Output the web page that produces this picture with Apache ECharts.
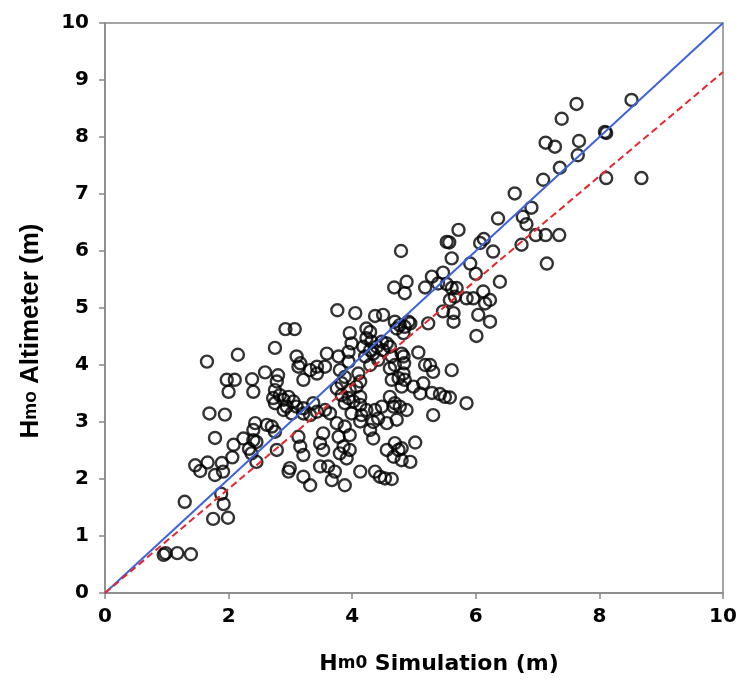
<!DOCTYPE html>
<html>
<head>
<meta charset="utf-8">
<script src="https://cdn.jsdelivr.net/npm/echarts@6/dist/echarts.min.js"></script>
<style>
  html, body { margin: 0; padding: 0; background: #fff; }
  #chart { width: 742px; height: 681px; }
</style>
</head>
<body>
<div id="chart"></div>
<script>
  // Hm0 from the simulation (x) and from the altimeter (y)
  var simHm0 = [
    0.95, 0.98, 1.17, 1.39, 1.29, 1.75, 1.99, 1.88, 1.92, 1.46,
    1.54, 1.66, 1.78, 1.89, 1.91, 2.06, 2.08, 2.24, 2.40, 2.33,
    2.45, 1.78, 1.69, 1.94, 1.65, 2.15, 1.97, 2.10, 2.00, 2.38,
    2.40, 2.59, 2.43, 2.62, 2.75, 2.78, 2.97, 2.40, 2.45, 2.37,
    2.70, 2.99, 3.21, 3.32, 2.75, 2.92, 3.07, 2.80, 2.78, 2.75,
    2.72, 2.89, 2.89, 2.83, 2.75, 2.97, 3.05, 2.94, 3.10, 3.02,
    3.21, 3.37, 3.43, 3.32, 3.21, 3.56, 3.64, 3.13, 3.16, 3.21,
    3.53, 3.48, 3.53, 3.48, 3.61, 3.72, 3.67, 3.88, 3.78, 3.86,
    3.96, 3.91, 3.80, 3.75, 3.88, 3.96, 4.13, 4.37, 4.45, 4.53,
    4.64, 4.13, 4.29, 4.34, 4.56, 4.72, 4.88, 4.69, 4.75, 4.67,
    4.56, 4.94, 4.80, 4.80, 5.02, 4.77, 5.31, 5.85, 5.29, 5.42,
    5.50, 5.58, 4.99, 5.10, 5.15, 5.61, 5.18, 5.26, 5.31, 5.07,
    4.83, 4.84, 4.83, 4.64, 4.75, 4.85, 4.80, 4.61, 4.69, 4.61,
    4.64, 4.80, 4.40, 4.42, 4.48, 4.50, 4.56, 4.23, 4.29, 4.23,
    4.31, 4.18, 4.29, 4.21, 4.34, 4.29, 3.96, 3.99, 3.94, 3.59,
    3.78, 3.94, 3.10, 3.16, 3.13, 3.43, 3.56, 3.32, 3.43, 3.21,
    3.80, 3.88, 3.83, 3.75, 3.83, 3.96, 4.07, 4.13, 4.02, 3.94,
    3.88, 3.99, 4.13, 4.23, 4.15, 4.37, 4.42, 4.34, 4.48, 4.61,
    4.67, 4.69, 4.10, 4.13, 3.76, 4.05, 4.37, 4.50, 4.69, 4.91,
    4.85, 4.72, 4.68, 4.88, 4.85, 4.79, 4.94, 4.77, 4.83, 5.29,
    5.18, 5.39, 5.47, 5.53, 5.61, 5.69, 5.58, 5.66, 5.85, 5.96,
    6.12, 6.15, 6.23, 6.04, 6.23, 5.64, 5.64, 5.47, 5.23, 6.01,
    5.72, 5.53, 5.57, 6.07, 6.13, 6.28, 5.61, 5.91, 6.00, 6.39,
    6.36, 6.63, 6.90, 6.76, 6.82, 6.97, 7.13, 7.35, 6.74, 7.15,
    7.09, 7.36, 7.65, 7.67, 7.13, 7.28, 8.09, 8.11, 7.39, 7.63,
    8.52, 8.11, 8.68
  ];
  var altHm0 = [
    0.67, 0.70, 0.70, 0.68, 1.60, 1.30, 1.32, 1.74, 1.56, 2.24,
    2.14, 2.29, 2.07, 2.28, 2.13, 2.38, 2.60, 2.71, 2.68, 2.53,
    2.30, 2.72, 3.15, 3.13, 4.06, 4.18, 3.74, 3.74, 3.53, 3.75,
    3.53, 3.87, 2.98, 2.95, 2.83, 2.51, 2.13, 2.86, 2.65, 2.45,
    2.92, 2.19, 2.04, 1.89, 4.30, 4.63, 4.63, 3.82, 3.71, 3.56,
    3.42, 3.39, 3.21, 3.47, 3.33, 3.44, 3.36, 3.27, 3.27, 3.15,
    3.24, 3.33, 3.18, 3.12, 3.15, 3.21, 3.15, 2.74, 2.57, 2.42,
    2.80, 2.63, 2.51, 2.22, 2.22, 2.13, 1.98, 1.89, 2.74, 2.57,
    2.51, 2.36, 2.45, 2.98, 2.92, 2.77, 2.13, 2.13, 2.04, 2.01,
    2.00, 3.01, 2.86, 2.71, 2.98, 3.04, 3.21, 2.63, 2.51, 2.39,
    2.51, 2.30, 2.33, 2.54, 2.64, 3.27, 3.12, 3.33, 3.51, 3.49,
    3.44, 3.43, 3.62, 3.50, 3.68, 3.91, 4.00, 4.00, 3.88, 4.22,
    4.15, 4.03, 3.85, 3.74, 3.77, 3.74, 3.62, 3.94, 4.00, 4.32,
    4.15, 4.20, 4.32, 4.09, 4.41, 4.26, 4.38, 4.64, 4.58, 4.47,
    4.41, 4.32, 4.26, 4.15, 4.20, 4.00, 4.56, 4.38, 4.23, 4.20,
    4.15, 4.06, 4.15, 4.03, 3.97, 3.97, 3.97, 3.91, 3.85, 3.74,
    3.91, 3.79, 3.68, 3.59, 3.47, 3.56, 3.62, 3.44, 3.36, 3.42,
    3.33, 3.15, 3.30, 3.21, 3.12, 3.21, 3.06, 3.00, 3.27, 3.44,
    3.27, 3.33, 3.85, 3.71, 4.96, 4.91, 4.86, 4.88, 4.76, 4.76,
    4.67, 4.64, 5.36, 5.46, 5.26, 6.00, 4.73, 4.70, 4.56, 5.55,
    5.36, 5.43, 5.62, 5.42, 5.35, 5.35, 5.14, 5.20, 5.17, 5.17,
    5.29, 5.08, 5.14, 4.88, 4.76, 4.91, 4.76, 4.94, 4.73, 4.51,
    6.37, 6.16, 6.15, 6.14, 6.21, 5.99, 5.87, 5.78, 5.60, 5.46,
    6.57, 7.01, 6.76, 6.60, 6.47, 6.28, 6.28, 6.28, 6.11, 5.78,
    7.25, 7.46, 7.68, 7.93, 7.90, 7.83, 8.09, 8.07, 8.32, 8.58,
    8.65, 7.28, 7.28
  ];
  // 1:1 line and the regression line through the origin
  var oneToOne = [[0, 0], [10, 10]];
  var fitLine = [[0, 0], [10, 9.14]];

  var points = simHm0.map(function (x, i) {
    return [x, altHm0[i]];
  });

  var labelFont = {
    fontFamily: 'DejaVu Sans',
    fontWeight: 'bold',
    fontSize: 20,
    color: '#000'
  };

  var chart = echarts.init(document.getElementById('chart'));
  chart.setOption({
    animation: false,
    grid: {
      left: 105,
      right: 19,
      top: 23,
      bottom: 88,
      show: true,
      borderColor: '#888',
      borderWidth: 1.5
    },
    xAxis: {
      type: 'value',
      min: 0,
      max: 10,
      interval: 2,
      splitLine: { show: false },
      axisLine: { lineStyle: { color: '#888', width: 1.5 } },
      axisTick: { length: 6, lineStyle: { color: '#888', width: 1.5 } },
      axisLabel: Object.assign({ margin: 14 }, labelFont),
      name: '{a|H}{b|m0}{a| Simulation (m)}',
      nameLocation: 'middle',
      nameGap: 60,
      nameTextStyle: {
        padding: [0, 0, 0, 50],
        rich: {
          a: { fontFamily: 'DejaVu Sans', fontWeight: 'bold', fontSize: 22, color: '#000' },
          b: { fontFamily: 'DejaVu Sans', fontWeight: 'bold', fontSize: 17, color: '#000' }
        }
      }
    },
    yAxis: {
      type: 'value',
      min: 0,
      max: 10,
      interval: 1,
      splitLine: { show: false },
      axisLine: { lineStyle: { color: '#888', width: 1.5 } },
      axisTick: { length: 6, lineStyle: { color: '#888', width: 1.5 } },
      axisLabel: Object.assign({ margin: 16 }, labelFont),
      name: '{a|H}{b|mo}{a| Altimeter (m)}',
      nameLocation: 'middle',
      nameRotate: 90,
      nameGap: 61,
      nameTextStyle: {
        padding: [0, 46, 0, 0],
        rich: {
          a: { fontFamily: 'Liberation Sans', fontWeight: 'bold', fontSize: 26, color: '#000' },
          b: { fontFamily: 'Liberation Sans', fontWeight: 'bold', fontSize: 19, color: '#000' }
        }
      }
    },
    series: [
      {
        type: 'scatter',
        data: points,
        symbol: 'circle',
        symbolSize: 12,
        itemStyle: {
          color: 'rgba(0,0,0,0)',
          borderColor: '#000',
          borderWidth: 2.4
        },
        z: 2
      },
      {
        type: 'line',
        data: oneToOne,
        symbol: 'none',
        lineStyle: { color: '#3d63dc', width: 2 },
        z: 3
      },
      {
        type: 'line',
        data: fitLine,
        symbol: 'none',
        lineStyle: { color: '#e8262a', width: 2, type: [7, 4] },
        z: 3
      }
    ]
  });
</script>
</body>
</html>
